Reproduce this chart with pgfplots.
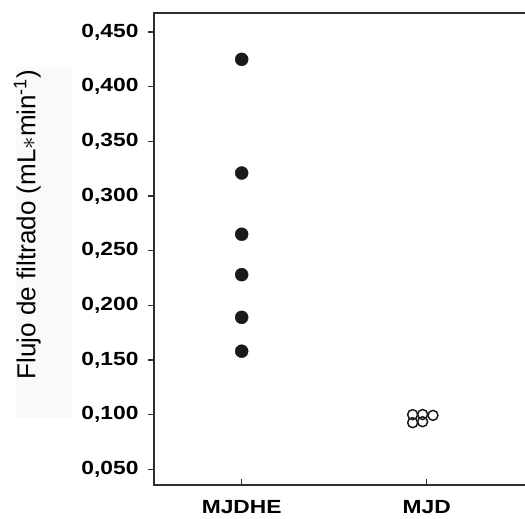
\documentclass[border=0pt]{standalone}
\usepackage{pgfplots}
\pgfplotsset{compat=1.18}
\usepackage{fontspec}
\setmainfont{Liberation Sans}
\usepackage{graphicx}
\definecolor{dotc}{HTML}{1A1A1A}
\definecolor{axc}{HTML}{2E2E2E}
\definecolor{lblbg}{HTML}{F9F9F9}
\newcommand{\wide}[1]{\scalebox{1.2}[1]{#1}}
\begin{document}
\begin{tikzpicture}
\useasboundingbox (-154pt,-34pt) rectangle (371pt,485pt);
\fill[lblbg] (-138pt,67pt) rectangle (-82pt,418pt);
\begin{axis}[
    at={(0,0)}, anchor=south west,
    scale only axis,
    width=383.7pt, height=472pt,
    xmin=0.526, xmax=2.6,
    ymin=0.0356, ymax=0.4674,
    axis line style={axc, line width=1.6pt},
    tick style={axc, line width=1.3pt},
    major tick length=6pt,
    xtick pos=bottom, ytick pos=left,
    xtick align=inside, ytick align=outside,
    xtick={1,2},
    xticklabels={\wide{MJDHE}, \wide{MJD}},
    ytick={0.05,0.1,0.15,0.2,0.25,0.3,0.35,0.4,0.45},
    yticklabel={\wide{\pgfmathprintnumber{\tick}}},
    /pgf/number format/.cd, fixed, fixed zerofill, precision=3, use comma, assume math mode=true,
    /pgfplots/.cd,
    tick label style={font=\fontsize{19}{21}\selectfont\bfseries, text=black},
    xticklabel style={yshift=-12pt},
    yticklabel style={xshift=-6pt},
    ylabel={Flujo de filtrado (mL$\ast$min\textsuperscript{-1})},
    ylabel style={at={(rel axis cs:-0.33,0.552)}, anchor=center, rotate=0,
        font=\fontsize{26}{28}\selectfont},
    clip=false,
]
\addplot[only marks, mark=*, mark size=6.5pt, dotc, mark options={fill=dotc, draw=dotc}]
    coordinates {(1,0.425) (1,0.321) (1,0.265) (1,0.228) (1,0.189) (1,0.158)};
\addplot[only marks, mark=o, mark size=5pt, dotc, mark options={line width=1.5pt, fill=none}]
    coordinates {(1.924,0.1000) (1.978,0.1001) (2.034,0.0993) (1.924,0.0926) (1.978,0.0935)};
\end{axis}
\end{tikzpicture}
\end{document}
